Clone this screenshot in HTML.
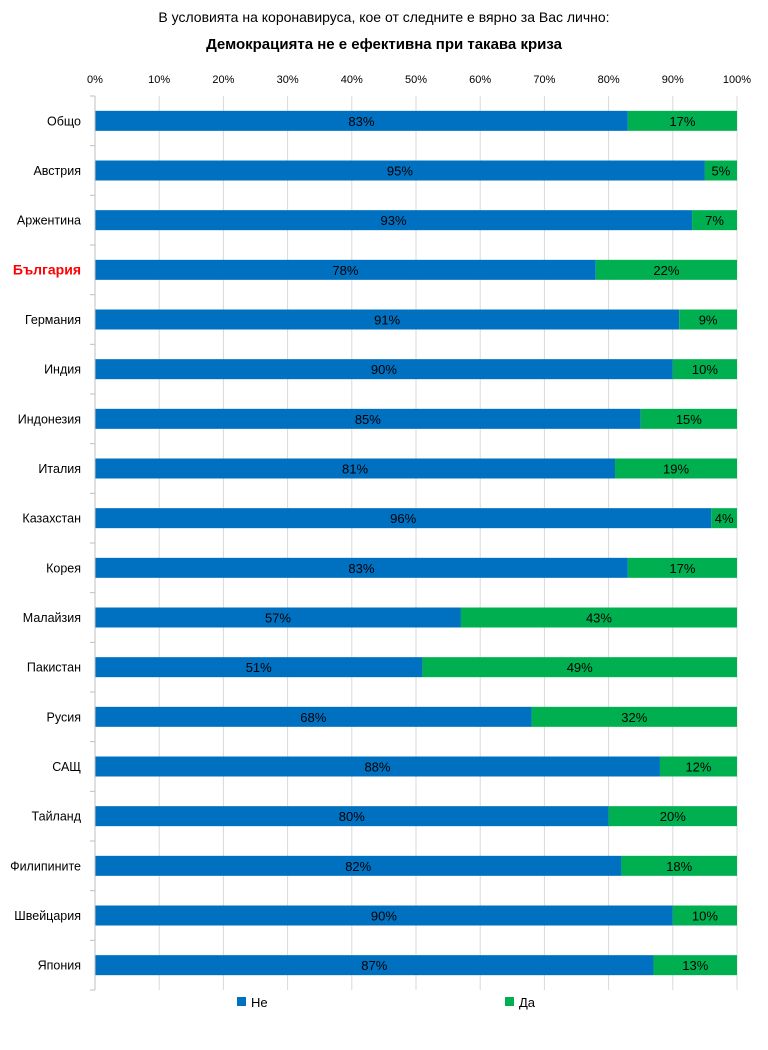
<!DOCTYPE html>
<html><head><meta charset="utf-8"><style>
body{margin:0;background:#fff;font-family:"Liberation Sans","DejaVu Sans",sans-serif;}
</style></head><body>
<svg id="c" width="768" height="1045" xmlns="http://www.w3.org/2000/svg" font-family="Liberation Sans, DejaVu Sans, sans-serif">
<text x="384" y="22" text-anchor="middle" font-size="14" fill="#000">В условията на коронавируса, кое от следните е вярно за Вас лично:</text>
<text x="384" y="49" text-anchor="middle" font-size="15" font-weight="bold" fill="#000">Демокрацията не е ефективна при такава криза</text>
<g id="grid"></g><g id="bars"></g><g id="axes"></g>
<g>
<rect x="237" y="997" width="9" height="9" fill="#0070C0"/>
<text x="251" y="1007" font-size="13">Не</text>
<rect x="505" y="997" width="9" height="9" fill="#00B050"/>
<text x="519" y="1007" font-size="13">Да</text>
</g>
</svg>
<script>
const categories=["Общо","Австрия","Аржентина","България","Германия","Индия","Индонезия","Италия","Казахстан","Корея","Малайзия","Пакистан","Русия","САЩ","Тайланд","Филипините","Швейцария","Япония"];
const neValues=[83,95,93,78,91,90,85,81,96,83,57,51,68,88,80,82,90,87];
const daValues=[17,5,7,22,9,10,15,19,4,17,43,49,32,12,20,18,10,13];
const ticks=[0,10,20,30,40,50,60,70,80,90,100];
const NS="http://www.w3.org/2000/svg";
const x0=95,x1=737,yTop=96,yBot=990,band=(yBot-yTop)/categories.length,bh=20;
const xs=v=>x0+(x1-x0)*v/100;
const yc=i=>yTop+(i+0.5)*band;
function mk(tag,attrs,parent,txt){const e=document.createElementNS(NS,tag);for(const k in attrs)e.setAttribute(k,attrs[k]);if(txt!==undefined)e.textContent=txt;document.getElementById(parent).appendChild(e);return e;}
ticks.forEach(t=>{
 const g=mk('line',{x1:xs(t),x2:xs(t),y1:yTop,y2:yBot,stroke:'#d9d9d9','stroke-width':1},'grid');
 
 
 const l=mk('text',{x:xs(t),y:83,'text-anchor':'middle','font-size':11,fill:'#000'},'axes',t+'%');
 
 
});
const ax=mk('line',{x1:x0,x2:x0,y1:yTop,y2:yBot,stroke:'#bfbfbf','stroke-width':1},'axes');


for(let i=0;i<=categories.length;i++){
 const y=yTop+i*band;
 const tk=mk('line',{x1:x0-5,x2:x0,y1:y,y2:y,stroke:'#bfbfbf'},'axes');
 
 
}
categories.forEach((c,i)=>{
 const y=yc(i);
 const bg=c==="България";
 const l=mk('text',{x:81,y:y+4.5,'text-anchor':'end','font-size':bg?14:12.5,'font-weight':bg?'bold':'normal',fill:bg?'#FF0000':'#000'},'axes',c);
 
 
 const n=neValues[i],d=daValues[i];
 const b1=mk('rect',{x:xs(0),y:y-bh/2,width:xs(n)-xs(0),height:bh,fill:'#0070C0'},'bars');
 
 
 const b2=mk('rect',{x:xs(n),y:y-bh/2,width:xs(n+d)-xs(n),height:bh,fill:'#00B050'},'bars');
 
 
 const t1=mk('text',{x:(xs(0)+xs(n))/2,y:y+5,'text-anchor':'middle','font-size':13,fill:'#000'},'bars',n+'%');
 
 
 const t2=mk('text',{x:(xs(n)+xs(n+d))/2,y:y+5,'text-anchor':'middle','font-size':13,fill:'#000'},'bars',d+'%');
 
 
});
</script>
</body></html>
